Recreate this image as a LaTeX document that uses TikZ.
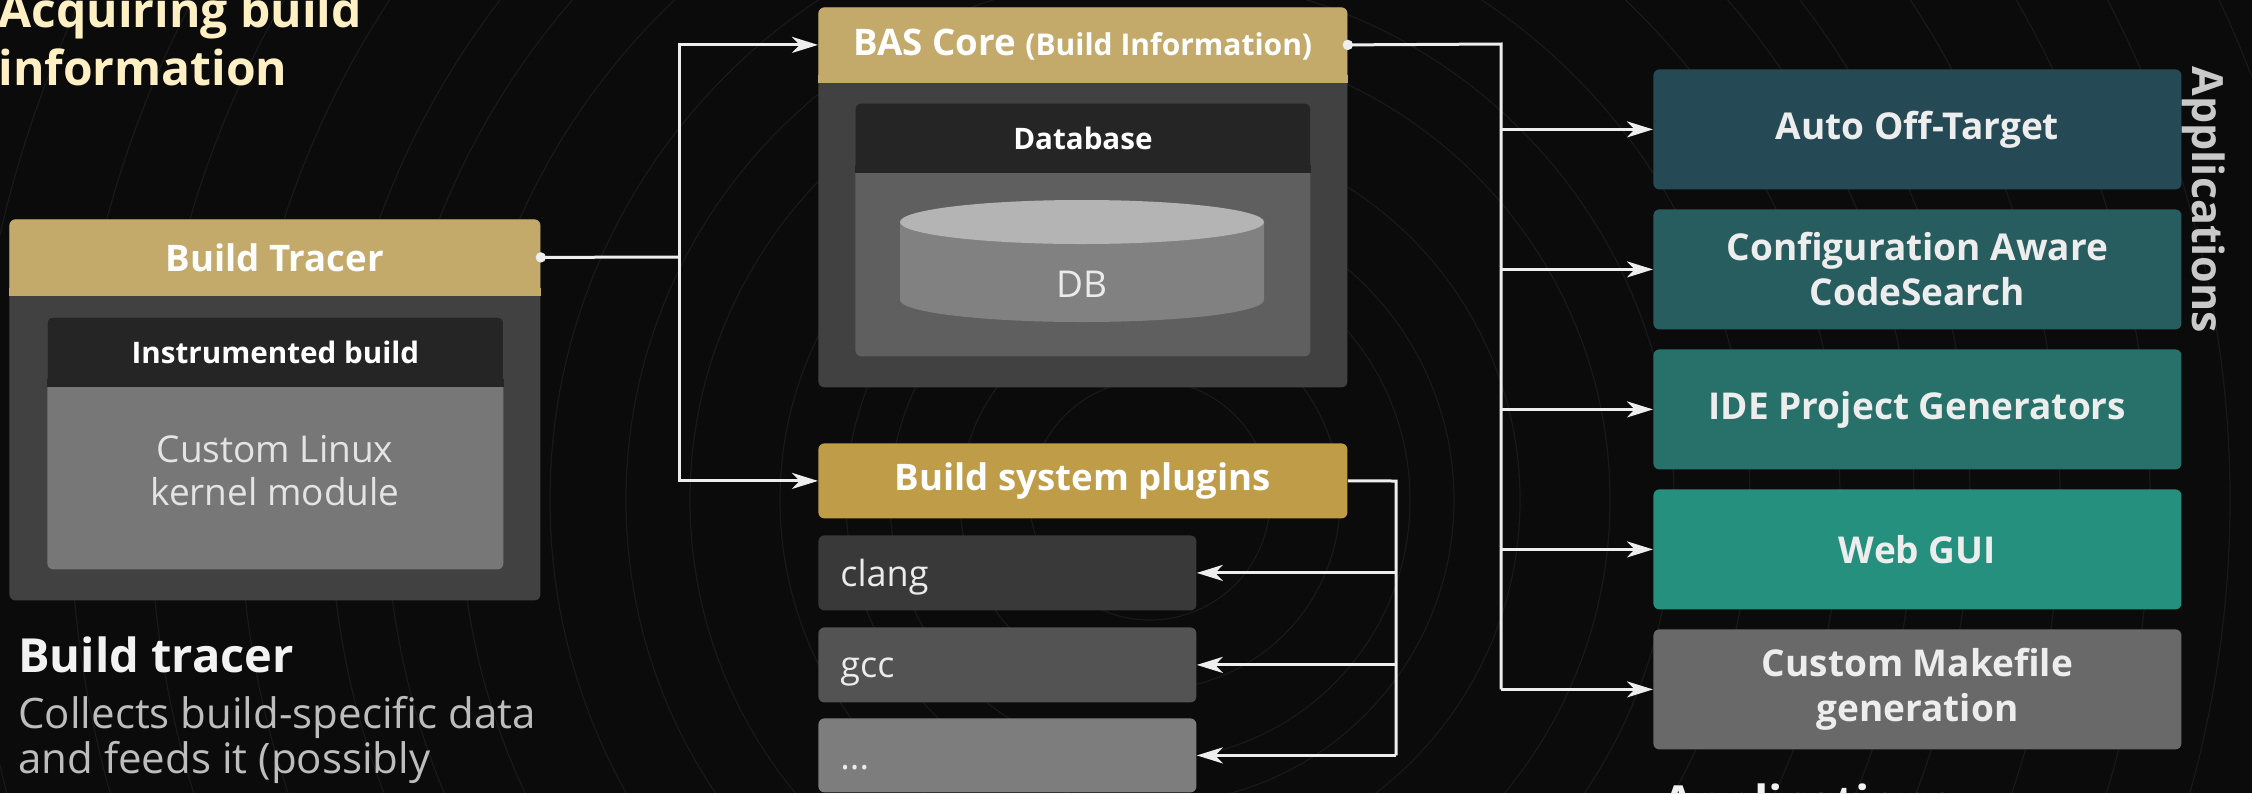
\documentclass[tikz,border=0pt]{standalone}
\usepackage{fontspec}
\setmainfont{Open Sans}
\usetikzlibrary{arrows.meta,calc}

\definecolor{bgc}{HTML}{0B0B0B}
\definecolor{titlec}{HTML}{FFF0C4}
\definecolor{goldA}{HTML}{C3AA6B}
\definecolor{goldB}{HTML}{BE9C48}
\definecolor{cardc}{HTML}{414141}
\definecolor{innerhead}{HTML}{252525}
\definecolor{kernelc}{HTML}{777777}
\definecolor{dbbody}{HTML}{5F5F5F}
\definecolor{cyltop}{HTML}{B4B4B4}
\definecolor{cylside}{HTML}{818181}
\definecolor{clangc}{HTML}{393939}
\definecolor{gccc}{HTML}{535353}
\definecolor{morec}{HTML}{7D7D7D}
\definecolor{appA}{HTML}{264A55}
\definecolor{appB}{HTML}{285D5F}
\definecolor{appC}{HTML}{27716A}
\definecolor{appD}{HTML}{26907F}
\definecolor{appE}{HTML}{696969}
\definecolor{wirec}{HTML}{EEEEEE}
\definecolor{softtext}{HTML}{E4E4E4}
\definecolor{desctext}{HTML}{BDBDBD}
\definecolor{sidelabel}{HTML}{C9C9C9}

\begin{document}
\begin{tikzpicture}[x=0.5pt,y=-0.5pt,
  panel/.style={rectangle, rounded corners=3pt, inner sep=0pt, anchor=north west},
  headtxt/.style={text=white, font=\bfseries\fontsize{18.3}{22}\selectfont},
  subhead/.style={text=white, font=\bfseries\fontsize{14.8}{18}\selectfont},
  apptxt/.style={text=white!93!black, align=center, font=\bfseries\fontsize{18.5}{22.5}\selectfont},
  plaintxt/.style={inner sep=0pt, text=softtext, font=\fontsize{18.5}{22.5}\selectfont},
  wire/.style={draw=wirec, line width=1.5pt},
  arr/.style={wire, -{Stealth[length=13pt, width=8pt, inset=3.8pt]}},
  dot/.style={fill=wirec}
]
\useasboundingbox (0,0) rectangle (2252,793);
\fill[bgc] (0,0) rectangle (2252,793);

\begin{scope}
\clip (0,0) rectangle (2252,793);
% concentric grooves in the backdrop
\foreach \r in {60,95,130,152,185,230,262,300,345,382,410,455,500,540,590,640,700,760,830}
  \draw[white, opacity=0.06, line width=0.6pt] (1150,500) circle[radius=\r pt];

% ---------- title ----------
\node[inner sep=0pt, anchor=base west, text=titlec, font=\bfseries\fontsize{24}{29}\selectfont] (title1) at (-2,27) {Acquiring build};
\node[inner sep=0pt, anchor=base west, text=titlec, font=\bfseries\fontsize{24}{29}\selectfont] (title2) at (-2,85) {information};

% ---------- Build Tracer card ----------
\node[panel, fill=cardc, minimum width=265.5pt, minimum height=190.5pt] (tracer) at (9,219) {};
\node[panel, fill=goldA, minimum width=265.5pt, minimum height=38pt, headtxt] (tracerhead) at (9,219) {Build Tracer};
\fill[goldA] ([yshift=4pt]tracerhead.south west) rectangle (tracerhead.south east);
\node[panel, fill=kernelc, minimum width=228pt, minimum height=126pt] (kernel) at (47,317) {};
\node[panel, fill=innerhead, minimum width=228pt, minimum height=34.5pt, subhead] (kernelhead) at (47,317) {Instrumented build};
\fill[innerhead] ([yshift=4pt]kernelhead.south west) rectangle (kernelhead.south east);
\node[plaintxt, anchor=base] (kern1) at (275,462) {Custom Linux};
\node[plaintxt, anchor=base] (kern2) at (275,505) {kernel module};

% ---------- BAS Core card ----------
\node[panel, fill=cardc, minimum width=264.5pt, minimum height=190pt] (bas) at (818,7) {};
\node[panel, fill=goldA, minimum width=264.5pt, minimum height=37.5pt, headtxt] (bashead) at (818,7)
  {BAS Core {\fontsize{15}{18}\selectfont(Build Information)}};
\fill[goldA] ([yshift=4pt]bashead.south west) rectangle (bashead.south east);
\node[panel, fill=dbbody, minimum width=227.5pt, minimum height=126.5pt] (dbpanel) at (855,103) {};
\node[panel, fill=innerhead, minimum width=227.5pt, minimum height=34.5pt, subhead] (dbhead) at (855,103) {Database};
\fill[innerhead] ([yshift=4pt]dbhead.south west) rectangle (dbhead.south east);
% database cylinder
\fill[cylside] (900,222) -- (900,300) arc[start angle=180, end angle=360, x radius=91pt, y radius=11pt] -- (1264,222) -- cycle;
\fill[cyltop] (1082,222) ellipse[x radius=91pt, y radius=11pt];
\node[plaintxt, anchor=base, text=white!92!black] (dbtxt) at (1082,297) {DB};

% ---------- build system plugins ----------
\node[panel, fill=goldB, minimum width=264.5pt, minimum height=37.5pt, headtxt] (plughead) at (818,443) {Build system plugins};
\node[panel, fill=clangc, minimum width=189pt, minimum height=37.5pt] (clang) at (818,535) {};
\node[panel, fill=gccc, minimum width=189pt, minimum height=37.5pt] (gcc) at (818,627) {};
\node[panel, fill=morec, minimum width=189pt, minimum height=37pt] (more) at (818,718) {};
\node[plaintxt, anchor=base west, text=white!92!black, font=\fontsize{18}{22}\selectfont] (clangt) at (840,586) {clang};
\node[plaintxt, anchor=base west, text=white!92!black, font=\fontsize{18}{22}\selectfont] (gcct) at (840,677) {gcc};
\node[plaintxt, anchor=base west, text=white!92!black, font=\fontsize{18}{22}\selectfont] (moret) at (840,769) {...};

% ---------- applications ----------
\node[panel, fill=appA, minimum width=264pt, minimum height=60pt, apptxt] (aot) at (1653,69) {Auto Off-Target};
\node[panel, fill=appB, minimum width=264pt, minimum height=60pt, apptxt] (cacs) at (1653,209) {Configuration Aware\\CodeSearch};
\node[panel, fill=appC, minimum width=264pt, minimum height=60pt, apptxt] (ide) at (1653,349) {IDE Project Generators};
\node[panel, fill=appD, minimum width=264pt, minimum height=60pt, apptxt] (web) at (1653,489) {Web GUI};
\node[panel, fill=appE, minimum width=264pt, minimum height=60pt, apptxt] (mk) at (1653,629) {Custom Makefile\\generation};
\node[rotate=-90, inner sep=0pt, text=sidelabel, font=\bfseries\fontsize{21.5}{26}\selectfont] (applabel) at (2204,200) {Applications};

% ---------- side text ----------
\node[inner sep=0pt, anchor=base west, text=white!95!black, font=\bfseries\fontsize{23.5}{28}\selectfont] (tracerh) at (18,672) {Build tracer};
\node[inner sep=0pt, anchor=base west, text=desctext, font=\fontsize{21}{25}\selectfont] (desc1) at (18,728) {Collects build-specific data};
\node[inner sep=0pt, anchor=base west, text=desctext, font=\fontsize{21}{25}\selectfont] (desc2) at (18,773) {and feeds it (possibly};
\node[inner sep=0pt, anchor=base west, text=white!95!black, font=\bfseries\fontsize{23.5}{28}\selectfont] (apph) at (1662,819) {Applications};

% ---------- connectors ----------
\coordinate (tbus) at (679,257);
\coordinate (pbus) at (1396,481);
\coordinate (abus) at (1501,44);
\draw[wire] (tracerhead.east) -- (tbus);
\draw[arr] (tbus) |- (bashead.west);
\draw[arr] (tbus) |- (plughead.west);
\fill[dot] (tracerhead.east) circle[radius=2.6pt];

\draw[wire] (bashead.east) -- (abus) -- (abus |- mk.west);
\foreach \t in {aot,cacs,ide,web,mk}
  \draw[arr] (abus |- \t.west) -- (\t.west);
\fill[dot] (bashead.east) circle[radius=2.6pt];

\draw[wire] (plughead.east) -- (pbus) -- (pbus |- more.east);
\foreach \t in {clang,gcc,more}
  \draw[arr] (pbus |- \t.east) -- (\t.east);
\end{scope}
\end{tikzpicture}
\end{document}
